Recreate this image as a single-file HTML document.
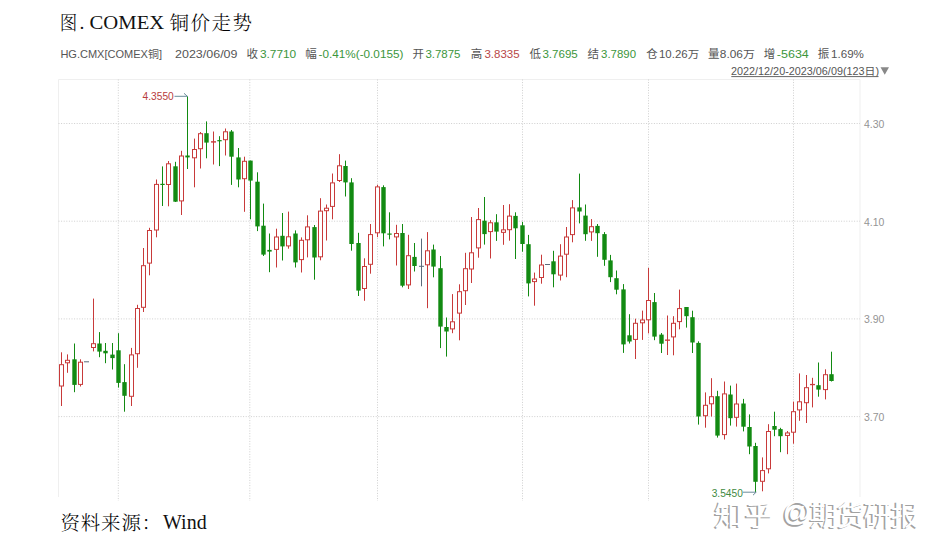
<!DOCTYPE html>
<html><head><meta charset="utf-8"><title>COMEX</title>
<style>
html,body{margin:0;padding:0;background:#fff;}
body{width:940px;height:553px;overflow:hidden;}
svg{display:block;}
.ttl{font-family:"Liberation Serif","Noto Serif CJK SC",serif;font-size:19.5px;font-weight:300;fill:#000;}
.ttlr{font-family:"Liberation Serif",serif;font-size:19.5px;fill:#111;}
.src{font-family:"Liberation Serif","Noto Serif CJK SC",serif;font-size:19.5px;font-weight:300;fill:#000;}
.srcr{font-family:"Liberation Serif",serif;font-size:20px;fill:#111;}
.inf{font-family:"Liberation Sans","Noto Sans CJK SC",sans-serif;font-size:10.4px;}
.infc{font-family:"Liberation Sans","Noto Sans CJK SC",sans-serif;font-size:11.5px;}
.lb{fill:#555;}
.gn{fill:#3c963c;}
.rd{fill:#b84848;}
.yl{font-family:"Liberation Sans","Noto Sans CJK SC",sans-serif;font-size:10.5px;fill:#949494;}
.rng{font-family:"Liberation Sans","Noto Sans CJK SC",sans-serif;font-size:10.4px;fill:#555;}
.mx{font-family:"Liberation Sans",sans-serif;font-size:11px;}
.wm{font-family:"Liberation Sans","Noto Sans CJK SC",sans-serif;font-size:28px;}
</style></head><body>
<svg width="940" height="553" viewBox="0 0 940 553">
<rect width="940" height="553" fill="#fff"/>
<text x="59.8" y="29.8" class="ttl" textLength="17.5" lengthAdjust="spacingAndGlyphs">图</text>
<text x="79.5" y="29.4" class="ttlr">.</text>
<text x="89.6" y="29.4" class="ttlr" textLength="74.6" lengthAdjust="spacingAndGlyphs">COMEX</text>
<text x="169.6" y="29.6" class="ttl" letter-spacing="1.5" font-size="19px">铜价走势</text>
<text x="60.4" y="58.2" class="inf lb" textLength="101.6" lengthAdjust="spacingAndGlyphs">HG.CMX[COMEX铜]</text>
<text x="175" y="58.2" class="inf lb" textLength="62.5" lengthAdjust="spacingAndGlyphs">2023/06/09</text>
<text x="246.5" y="58.2" class="infc lb">收</text>
<text x="259.9" y="58.2" class="inf gn" textLength="36.3" lengthAdjust="spacingAndGlyphs">3.7710</text>
<text x="305.3" y="58.2" class="infc lb">幅</text>
<text x="318.6" y="58.2" class="inf gn" textLength="84.8" lengthAdjust="spacingAndGlyphs">-0.41%(-0.0155)</text>
<text x="412.5" y="58.2" class="infc lb">开</text>
<text x="425.4" y="58.2" class="inf gn" textLength="35.1" lengthAdjust="spacingAndGlyphs">3.7875</text>
<text x="470.8" y="58.2" class="infc lb">高</text>
<text x="484.4" y="58.2" class="inf rd" textLength="35.2" lengthAdjust="spacingAndGlyphs">3.8335</text>
<text x="529.5" y="58.2" class="infc lb">低</text>
<text x="542.4" y="58.2" class="inf gn" textLength="35.4" lengthAdjust="spacingAndGlyphs">3.7695</text>
<text x="587.4" y="58.2" class="infc lb">结</text>
<text x="601.1" y="58.2" class="inf gn" textLength="34.9" lengthAdjust="spacingAndGlyphs">3.7890</text>
<text x="646.2" y="58.2" class="infc lb">仓</text>
<text x="659" y="58.2" class="inf lb" textLength="40.1" lengthAdjust="spacingAndGlyphs">10.26万</text>
<text x="708" y="58.2" class="infc lb">量</text>
<text x="719.8" y="58.2" class="inf lb" textLength="35" lengthAdjust="spacingAndGlyphs">8.06万</text>
<text x="763.8" y="58.2" class="infc lb">增</text>
<text x="776.8" y="58.2" class="inf gn" textLength="32" lengthAdjust="spacingAndGlyphs">-5634</text>
<text x="817.8" y="58.2" class="infc lb">振</text>
<text x="831" y="58.2" class="inf lb" textLength="32.9" lengthAdjust="spacingAndGlyphs">1.69%</text>
<text x="731" y="74.8" class="rng" textLength="148" lengthAdjust="spacingAndGlyphs">2022/12/20-2023/06/09(123日)</text>
<line x1="731.3" y1="76.6" x2="878.5" y2="76.6" stroke="#666" stroke-width="1"/>
<path d="M880.5 67.2 L889 67.2 L884.75 74.8 Z" fill="#888"/>
<path d="M58.5 497 V79.5 H860 V497" fill="none" stroke="#efefef" stroke-width="1"/>
<line x1="58.5" y1="123.5" x2="860" y2="123.5" stroke="#cfcfcf" stroke-width="1" stroke-dasharray="1,1.6"/>
<line x1="58.5" y1="221.2" x2="860" y2="221.2" stroke="#cfcfcf" stroke-width="1" stroke-dasharray="1,1.6"/>
<line x1="58.5" y1="318.9" x2="860" y2="318.9" stroke="#cfcfcf" stroke-width="1" stroke-dasharray="1,1.6"/>
<line x1="58.5" y1="416.6" x2="860" y2="416.6" stroke="#cfcfcf" stroke-width="1" stroke-dasharray="1,1.6"/>
<line x1="118.3" y1="79.5" x2="118.3" y2="501" stroke="#cfcfcf" stroke-width="1" stroke-dasharray="1,1.6"/>
<line x1="249.8" y1="79.5" x2="249.8" y2="501" stroke="#cfcfcf" stroke-width="1" stroke-dasharray="1,1.6"/>
<line x1="377.5" y1="79.5" x2="377.5" y2="501" stroke="#cfcfcf" stroke-width="1" stroke-dasharray="1,1.6"/>
<line x1="522.5" y1="79.5" x2="522.5" y2="501" stroke="#cfcfcf" stroke-width="1" stroke-dasharray="1,1.6"/>
<line x1="648.5" y1="79.5" x2="648.5" y2="501" stroke="#cfcfcf" stroke-width="1" stroke-dasharray="1,1.6"/>
<line x1="793.5" y1="79.5" x2="793.5" y2="501" stroke="#cfcfcf" stroke-width="1" stroke-dasharray="1,1.6"/>
<text x="863.9" y="127.8" class="yl" textLength="20.4" lengthAdjust="spacingAndGlyphs">4.30</text>
<text x="863.9" y="225.5" class="yl" textLength="20.4" lengthAdjust="spacingAndGlyphs">4.10</text>
<text x="863.9" y="323.2" class="yl" textLength="20.4" lengthAdjust="spacingAndGlyphs">3.90</text>
<text x="863.9" y="420.9" class="yl" textLength="20.4" lengthAdjust="spacingAndGlyphs">3.70</text>
<line x1="61.5" y1="352.3" x2="61.5" y2="406" stroke="#c83a3a" stroke-width="1"/>
<rect x="59.5" y="364.7" width="4" height="21.3" fill="#fff" stroke="#c83a3a" stroke-width="1"/>
<line x1="67.5" y1="354.4" x2="67.5" y2="372.8" stroke="#c83a3a" stroke-width="1"/>
<rect x="65.5" y="360.3" width="4" height="2.5" fill="#fff" stroke="#c83a3a" stroke-width="1"/>
<line x1="74.5" y1="343.5" x2="74.5" y2="392.2" stroke="#128a12" stroke-width="1"/>
<rect x="72.3" y="359.3" width="4.4" height="25.6" fill="#128a12"/>
<line x1="80.5" y1="359.3" x2="80.5" y2="386.5" stroke="#c83a3a" stroke-width="1"/>
<rect x="78.5" y="362.2" width="4" height="22.2" fill="#fff" stroke="#c83a3a" stroke-width="1"/>
<rect x="84" y="361.3" width="5" height="1" fill="#5a6a7a"/>
<line x1="93.5" y1="298.6" x2="93.5" y2="351.4" stroke="#c83a3a" stroke-width="1"/>
<rect x="91.5" y="343.7" width="4" height="3.8" fill="#fff" stroke="#c83a3a" stroke-width="1"/>
<line x1="99.5" y1="332.1" x2="99.5" y2="357.2" stroke="#128a12" stroke-width="1"/>
<rect x="97.3" y="343.5" width="4.4" height="8.1" fill="#128a12"/>
<line x1="105.5" y1="343" x2="105.5" y2="363.2" stroke="#128a12" stroke-width="1"/>
<rect x="103.3" y="350.8" width="4.4" height="2.5" fill="#128a12"/>
<line x1="112.5" y1="343" x2="112.5" y2="369.5" stroke="#128a12" stroke-width="1"/>
<rect x="110.3" y="354.6" width="4.4" height="3.5" fill="#128a12"/>
<line x1="118.5" y1="333.2" x2="118.5" y2="387.6" stroke="#128a12" stroke-width="1"/>
<rect x="116.3" y="350.3" width="4.4" height="32.6" fill="#128a12"/>
<line x1="124.5" y1="364.2" x2="124.5" y2="411.7" stroke="#128a12" stroke-width="1"/>
<rect x="122.3" y="382.1" width="4.4" height="13.7" fill="#128a12"/>
<line x1="131.5" y1="347.9" x2="131.5" y2="406" stroke="#c83a3a" stroke-width="1"/>
<rect x="129.5" y="354.9" width="4" height="41.4" fill="#fff" stroke="#c83a3a" stroke-width="1"/>
<line x1="137.5" y1="304.8" x2="137.5" y2="367.8" stroke="#c83a3a" stroke-width="1"/>
<rect x="135.5" y="308.5" width="4" height="45.2" fill="#fff" stroke="#c83a3a" stroke-width="1"/>
<line x1="143.5" y1="248" x2="143.5" y2="312" stroke="#c83a3a" stroke-width="1"/>
<rect x="141.5" y="265.7" width="4" height="41.6" fill="#fff" stroke="#c83a3a" stroke-width="1"/>
<line x1="149.5" y1="227.8" x2="149.5" y2="275.3" stroke="#c83a3a" stroke-width="1"/>
<rect x="147.5" y="230.5" width="4" height="32.6" fill="#fff" stroke="#c83a3a" stroke-width="1"/>
<line x1="156.5" y1="179.5" x2="156.5" y2="237.3" stroke="#c83a3a" stroke-width="1"/>
<rect x="154.5" y="184.4" width="4" height="45.6" fill="#fff" stroke="#c83a3a" stroke-width="1"/>
<line x1="162.5" y1="166.4" x2="162.5" y2="206" stroke="#128a12" stroke-width="1"/>
<rect x="160.3" y="183.8" width="4.4" height="1.2" fill="#128a12"/>
<line x1="168.5" y1="161" x2="168.5" y2="206.3" stroke="#c83a3a" stroke-width="1"/>
<rect x="166.5" y="163.8" width="4" height="20.7" fill="#fff" stroke="#c83a3a" stroke-width="1"/>
<line x1="175.5" y1="161.8" x2="175.5" y2="202" stroke="#128a12" stroke-width="1"/>
<rect x="173.3" y="166.3" width="4.4" height="35.4" fill="#128a12"/>
<line x1="181.5" y1="150.8" x2="181.5" y2="215" stroke="#c83a3a" stroke-width="1"/>
<rect x="179.5" y="156" width="4" height="44.9" fill="#fff" stroke="#c83a3a" stroke-width="1"/>
<line x1="187.5" y1="96.3" x2="187.5" y2="169" stroke="#128a12" stroke-width="1"/>
<rect x="185.3" y="155.5" width="4.4" height="1.9" fill="#128a12"/>
<line x1="194.5" y1="138.6" x2="194.5" y2="187.3" stroke="#c83a3a" stroke-width="1"/>
<rect x="192.5" y="149.5" width="4" height="8.3" fill="#fff" stroke="#c83a3a" stroke-width="1"/>
<line x1="200.5" y1="132" x2="200.5" y2="168.5" stroke="#c83a3a" stroke-width="1"/>
<rect x="198.5" y="133.7" width="4" height="15" fill="#fff" stroke="#c83a3a" stroke-width="1"/>
<line x1="206.5" y1="121.4" x2="206.5" y2="158.3" stroke="#128a12" stroke-width="1"/>
<rect x="204.3" y="133.2" width="4.4" height="9.4" fill="#128a12"/>
<line x1="213.5" y1="131.5" x2="213.5" y2="164.5" stroke="#c83a3a" stroke-width="1"/>
<rect x="211" y="141.2" width="5" height="1.4" fill="#c83a3a"/>
<line x1="219.5" y1="136.2" x2="219.5" y2="166.1" stroke="#128a12" stroke-width="1"/>
<rect x="217.3" y="140.1" width="4.4" height="1.2" fill="#128a12"/>
<line x1="225.5" y1="128.5" x2="225.5" y2="155.5" stroke="#c83a3a" stroke-width="1"/>
<rect x="223.5" y="131.8" width="4" height="7.9" fill="#fff" stroke="#c83a3a" stroke-width="1"/>
<line x1="231.5" y1="130" x2="231.5" y2="184.9" stroke="#128a12" stroke-width="1"/>
<rect x="229.3" y="131.5" width="4.4" height="25.2" fill="#128a12"/>
<line x1="238.5" y1="148" x2="238.5" y2="187.3" stroke="#128a12" stroke-width="1"/>
<rect x="236.3" y="157.4" width="4.4" height="22.1" fill="#128a12"/>
<line x1="244.5" y1="156.7" x2="244.5" y2="211.8" stroke="#c83a3a" stroke-width="1"/>
<rect x="242.5" y="161.3" width="4" height="17.4" fill="#fff" stroke="#c83a3a" stroke-width="1"/>
<line x1="250.5" y1="160.6" x2="250.5" y2="219.3" stroke="#128a12" stroke-width="1"/>
<rect x="248.3" y="160.6" width="4.4" height="20" fill="#128a12"/>
<line x1="257.5" y1="172.3" x2="257.5" y2="231.1" stroke="#128a12" stroke-width="1"/>
<rect x="255.3" y="181.7" width="4.4" height="44.7" fill="#128a12"/>
<line x1="263.5" y1="203.6" x2="263.5" y2="256" stroke="#128a12" stroke-width="1"/>
<rect x="261.3" y="225.7" width="4.4" height="28.9" fill="#128a12"/>
<line x1="269.5" y1="233.5" x2="269.5" y2="272.2" stroke="#128a12" stroke-width="1"/>
<rect x="267.3" y="249.9" width="4.4" height="1.7" fill="#128a12"/>
<line x1="276.5" y1="228.7" x2="276.5" y2="267.5" stroke="#c83a3a" stroke-width="1"/>
<rect x="274.5" y="237" width="4" height="12.4" fill="#fff" stroke="#c83a3a" stroke-width="1"/>
<line x1="282.5" y1="213" x2="282.5" y2="260.5" stroke="#128a12" stroke-width="1"/>
<rect x="280.3" y="235.8" width="4.4" height="10.6" fill="#128a12"/>
<line x1="288.5" y1="211.6" x2="288.5" y2="248.7" stroke="#c83a3a" stroke-width="1"/>
<rect x="286.5" y="236.8" width="4" height="9.1" fill="#fff" stroke="#c83a3a" stroke-width="1"/>
<line x1="295.5" y1="230.4" x2="295.5" y2="267.5" stroke="#128a12" stroke-width="1"/>
<rect x="293.3" y="233.5" width="4.4" height="28.9" fill="#128a12"/>
<line x1="301.5" y1="237.4" x2="301.5" y2="272.5" stroke="#c83a3a" stroke-width="1"/>
<rect x="299.5" y="240.3" width="4" height="19.3" fill="#fff" stroke="#c83a3a" stroke-width="1"/>
<line x1="307.5" y1="215.3" x2="307.5" y2="257.4" stroke="#c83a3a" stroke-width="1"/>
<rect x="305.5" y="226.9" width="4" height="12.9" fill="#fff" stroke="#c83a3a" stroke-width="1"/>
<line x1="314.5" y1="225" x2="314.5" y2="279.7" stroke="#128a12" stroke-width="1"/>
<rect x="312.3" y="227.1" width="4.4" height="30.4" fill="#128a12"/>
<line x1="320.5" y1="198.2" x2="320.5" y2="260.3" stroke="#c83a3a" stroke-width="1"/>
<rect x="318.5" y="211.1" width="4" height="45.7" fill="#fff" stroke="#c83a3a" stroke-width="1"/>
<line x1="326.5" y1="204.5" x2="326.5" y2="240.5" stroke="#c83a3a" stroke-width="1"/>
<rect x="324.5" y="208.2" width="4" height="2.5" fill="#fff" stroke="#c83a3a" stroke-width="1"/>
<line x1="332.5" y1="173.5" x2="332.5" y2="219.3" stroke="#c83a3a" stroke-width="1"/>
<rect x="330.5" y="182.9" width="4" height="23.5" fill="#fff" stroke="#c83a3a" stroke-width="1"/>
<line x1="339.5" y1="154.2" x2="339.5" y2="182" stroke="#c83a3a" stroke-width="1"/>
<rect x="337.5" y="165.8" width="4" height="14.7" fill="#fff" stroke="#c83a3a" stroke-width="1"/>
<line x1="345.5" y1="160.6" x2="345.5" y2="196.5" stroke="#128a12" stroke-width="1"/>
<rect x="343.3" y="166" width="4.4" height="16.4" fill="#128a12"/>
<line x1="351.5" y1="178.2" x2="351.5" y2="250.7" stroke="#128a12" stroke-width="1"/>
<rect x="349.3" y="182.4" width="4.4" height="61.6" fill="#128a12"/>
<line x1="358.5" y1="232.8" x2="358.5" y2="296" stroke="#128a12" stroke-width="1"/>
<rect x="356.3" y="243" width="4.4" height="47.6" fill="#128a12"/>
<line x1="364.5" y1="258.3" x2="364.5" y2="300.8" stroke="#c83a3a" stroke-width="1"/>
<rect x="362.5" y="266.5" width="4" height="22" fill="#fff" stroke="#c83a3a" stroke-width="1"/>
<line x1="370.5" y1="224" x2="370.5" y2="273.7" stroke="#c83a3a" stroke-width="1"/>
<rect x="368.5" y="234.6" width="4" height="29.7" fill="#fff" stroke="#c83a3a" stroke-width="1"/>
<line x1="377.5" y1="184.8" x2="377.5" y2="237.2" stroke="#c83a3a" stroke-width="1"/>
<rect x="375.5" y="186.9" width="4" height="45.9" fill="#fff" stroke="#c83a3a" stroke-width="1"/>
<line x1="383.5" y1="185.3" x2="383.5" y2="246.4" stroke="#128a12" stroke-width="1"/>
<rect x="381.3" y="187.1" width="4.4" height="46.2" fill="#128a12"/>
<line x1="389.5" y1="212.3" x2="389.5" y2="239.4" stroke="#128a12" stroke-width="1"/>
<rect x="387.3" y="233.5" width="4.4" height="1.2" fill="#128a12"/>
<line x1="396.5" y1="224.8" x2="396.5" y2="265.5" stroke="#c83a3a" stroke-width="1"/>
<rect x="394.5" y="233.5" width="4" height="3.4" fill="#fff" stroke="#c83a3a" stroke-width="1"/>
<line x1="402.5" y1="224" x2="402.5" y2="287.3" stroke="#128a12" stroke-width="1"/>
<rect x="400.3" y="233" width="4.4" height="52.7" fill="#128a12"/>
<line x1="408.5" y1="234.8" x2="408.5" y2="289" stroke="#c83a3a" stroke-width="1"/>
<rect x="406.5" y="255.7" width="4" height="29.2" fill="#fff" stroke="#c83a3a" stroke-width="1"/>
<line x1="414.5" y1="243" x2="414.5" y2="271.5" stroke="#128a12" stroke-width="1"/>
<rect x="412.3" y="256.9" width="4.4" height="9.1" fill="#128a12"/>
<line x1="421.5" y1="238.6" x2="421.5" y2="286.3" stroke="#5a6a7a" stroke-width="1"/>
<rect x="419" y="265.8" width="5" height="1" fill="#5a6a7a"/>
<line x1="427.5" y1="232.1" x2="427.5" y2="308.2" stroke="#c83a3a" stroke-width="1"/>
<rect x="425.5" y="250.8" width="4" height="14" fill="#fff" stroke="#c83a3a" stroke-width="1"/>
<line x1="433.5" y1="244.6" x2="433.5" y2="277.3" stroke="#128a12" stroke-width="1"/>
<rect x="431.3" y="249.5" width="4.4" height="17.1" fill="#128a12"/>
<line x1="440.5" y1="256" x2="440.5" y2="348.1" stroke="#128a12" stroke-width="1"/>
<rect x="438.3" y="268.2" width="4.4" height="58.4" fill="#128a12"/>
<line x1="446.5" y1="317.5" x2="446.5" y2="356.6" stroke="#128a12" stroke-width="1"/>
<rect x="444.3" y="327" width="4.4" height="4.5" fill="#128a12"/>
<line x1="452.5" y1="294.1" x2="452.5" y2="333.2" stroke="#c83a3a" stroke-width="1"/>
<rect x="450.5" y="321.8" width="4" height="7.1" fill="#fff" stroke="#c83a3a" stroke-width="1"/>
<line x1="459.5" y1="284.3" x2="459.5" y2="340.3" stroke="#c83a3a" stroke-width="1"/>
<rect x="457.5" y="291.7" width="4" height="21.4" fill="#fff" stroke="#c83a3a" stroke-width="1"/>
<line x1="465.5" y1="252.8" x2="465.5" y2="305" stroke="#c83a3a" stroke-width="1"/>
<rect x="463.5" y="268.7" width="4" height="22" fill="#fff" stroke="#c83a3a" stroke-width="1"/>
<line x1="471.5" y1="217" x2="471.5" y2="283" stroke="#c83a3a" stroke-width="1"/>
<rect x="469.5" y="252.8" width="4" height="16.2" fill="#fff" stroke="#c83a3a" stroke-width="1"/>
<line x1="478.5" y1="208" x2="478.5" y2="257.7" stroke="#c83a3a" stroke-width="1"/>
<rect x="476.5" y="219.6" width="4" height="28.3" fill="#fff" stroke="#c83a3a" stroke-width="1"/>
<line x1="484.5" y1="197" x2="484.5" y2="244.6" stroke="#128a12" stroke-width="1"/>
<rect x="482.3" y="220.7" width="4.4" height="13.4" fill="#128a12"/>
<line x1="490.5" y1="220.2" x2="490.5" y2="258.5" stroke="#c83a3a" stroke-width="1"/>
<rect x="488.5" y="222.8" width="4" height="8.8" fill="#fff" stroke="#c83a3a" stroke-width="1"/>
<line x1="496.5" y1="214.2" x2="496.5" y2="240.9" stroke="#128a12" stroke-width="1"/>
<rect x="494.3" y="222.3" width="4.4" height="9.3" fill="#128a12"/>
<line x1="503.5" y1="205" x2="503.5" y2="244.8" stroke="#c83a3a" stroke-width="1"/>
<rect x="501.5" y="229.85" width="4" height="2.5" fill="#fff" stroke="#c83a3a" stroke-width="1"/>
<line x1="509.5" y1="204.2" x2="509.5" y2="240.7" stroke="#c83a3a" stroke-width="1"/>
<rect x="507.5" y="216.1" width="4" height="13.6" fill="#fff" stroke="#c83a3a" stroke-width="1"/>
<line x1="515.5" y1="212.3" x2="515.5" y2="259" stroke="#128a12" stroke-width="1"/>
<rect x="513.3" y="215.9" width="4.4" height="12.4" fill="#128a12"/>
<line x1="522.5" y1="221.8" x2="522.5" y2="251.7" stroke="#128a12" stroke-width="1"/>
<rect x="520.3" y="225.3" width="4.4" height="18.7" fill="#128a12"/>
<line x1="528.5" y1="234.9" x2="528.5" y2="296.4" stroke="#128a12" stroke-width="1"/>
<rect x="526.3" y="244.2" width="4.4" height="39.2" fill="#128a12"/>
<line x1="534.5" y1="272.6" x2="534.5" y2="305.7" stroke="#c83a3a" stroke-width="1"/>
<rect x="532.5" y="279" width="4" height="2.6" fill="#fff" stroke="#c83a3a" stroke-width="1"/>
<line x1="541.5" y1="254.7" x2="541.5" y2="283.7" stroke="#c83a3a" stroke-width="1"/>
<rect x="539.5" y="265" width="4" height="12.5" fill="#fff" stroke="#c83a3a" stroke-width="1"/>
<rect x="545" y="264" width="5" height="1" fill="#5a6a7a"/>
<line x1="553.5" y1="250.8" x2="553.5" y2="287.3" stroke="#128a12" stroke-width="1"/>
<rect x="551.3" y="261.3" width="4.4" height="13" fill="#128a12"/>
<line x1="560.5" y1="244.2" x2="560.5" y2="280.5" stroke="#c83a3a" stroke-width="1"/>
<rect x="558.5" y="256.1" width="4" height="19" fill="#fff" stroke="#c83a3a" stroke-width="1"/>
<line x1="566.5" y1="227" x2="566.5" y2="277.2" stroke="#c83a3a" stroke-width="1"/>
<rect x="564.5" y="237" width="4" height="17.2" fill="#fff" stroke="#c83a3a" stroke-width="1"/>
<line x1="572.5" y1="200.1" x2="572.5" y2="242.3" stroke="#c83a3a" stroke-width="1"/>
<rect x="570.5" y="207.9" width="4" height="26.7" fill="#fff" stroke="#c83a3a" stroke-width="1"/>
<line x1="579.5" y1="173.6" x2="579.5" y2="223.4" stroke="#128a12" stroke-width="1"/>
<rect x="577.3" y="207.4" width="4.4" height="4.1" fill="#128a12"/>
<line x1="585.5" y1="204.5" x2="585.5" y2="240.8" stroke="#128a12" stroke-width="1"/>
<rect x="583.3" y="215.6" width="4.4" height="18.6" fill="#128a12"/>
<line x1="591.5" y1="219.1" x2="591.5" y2="240.9" stroke="#c83a3a" stroke-width="1"/>
<rect x="589.5" y="226.7" width="4" height="5.2" fill="#fff" stroke="#c83a3a" stroke-width="1"/>
<line x1="597.5" y1="224" x2="597.5" y2="256.8" stroke="#128a12" stroke-width="1"/>
<rect x="595.3" y="225.9" width="4.4" height="7.3" fill="#128a12"/>
<line x1="604.5" y1="232.1" x2="604.5" y2="265.8" stroke="#128a12" stroke-width="1"/>
<rect x="602.3" y="234.1" width="4.4" height="25.7" fill="#128a12"/>
<line x1="610.5" y1="254.9" x2="610.5" y2="282.1" stroke="#128a12" stroke-width="1"/>
<rect x="608.3" y="260.4" width="4.4" height="16.8" fill="#128a12"/>
<line x1="616.5" y1="270.5" x2="616.5" y2="294.3" stroke="#128a12" stroke-width="1"/>
<rect x="614.3" y="278.2" width="4.4" height="11.5" fill="#128a12"/>
<line x1="623.5" y1="284.1" x2="623.5" y2="352.9" stroke="#128a12" stroke-width="1"/>
<rect x="621.3" y="289.4" width="4.4" height="55" fill="#128a12"/>
<line x1="629.5" y1="314.2" x2="629.5" y2="343.5" stroke="#128a12" stroke-width="1"/>
<rect x="627.3" y="335.3" width="4.4" height="6.2" fill="#128a12"/>
<line x1="635.5" y1="318.7" x2="635.5" y2="359" stroke="#c83a3a" stroke-width="1"/>
<rect x="633.5" y="323.3" width="4" height="16.1" fill="#fff" stroke="#c83a3a" stroke-width="1"/>
<line x1="642.5" y1="310.6" x2="642.5" y2="339.9" stroke="#c83a3a" stroke-width="1"/>
<rect x="640.5" y="320" width="4" height="2.8" fill="#fff" stroke="#c83a3a" stroke-width="1"/>
<line x1="648.5" y1="267.9" x2="648.5" y2="333.4" stroke="#c83a3a" stroke-width="1"/>
<rect x="646.5" y="300.5" width="4" height="19.3" fill="#fff" stroke="#c83a3a" stroke-width="1"/>
<line x1="654.5" y1="293" x2="654.5" y2="340.2" stroke="#128a12" stroke-width="1"/>
<rect x="652.3" y="302.1" width="4.4" height="34.5" fill="#128a12"/>
<line x1="661.5" y1="333" x2="661.5" y2="353" stroke="#128a12" stroke-width="1"/>
<rect x="659.3" y="334.6" width="4.4" height="9.1" fill="#128a12"/>
<line x1="667.5" y1="315.5" x2="667.5" y2="355" stroke="#c83a3a" stroke-width="1"/>
<rect x="665" y="339.5" width="5" height="1.3" fill="#c83a3a"/>
<line x1="673.5" y1="316.2" x2="673.5" y2="355.3" stroke="#c83a3a" stroke-width="1"/>
<rect x="671.5" y="323.3" width="4" height="13.6" fill="#fff" stroke="#c83a3a" stroke-width="1"/>
<line x1="679.5" y1="289.6" x2="679.5" y2="329.3" stroke="#c83a3a" stroke-width="1"/>
<rect x="677.5" y="308.6" width="4" height="13" fill="#fff" stroke="#c83a3a" stroke-width="1"/>
<line x1="686.5" y1="307" x2="686.5" y2="327.6" stroke="#128a12" stroke-width="1"/>
<rect x="684.3" y="307" width="4.4" height="9.2" fill="#128a12"/>
<line x1="692.5" y1="310.7" x2="692.5" y2="353" stroke="#128a12" stroke-width="1"/>
<rect x="690.3" y="317.2" width="4.4" height="25.3" fill="#128a12"/>
<line x1="698.5" y1="341.3" x2="698.5" y2="424.6" stroke="#128a12" stroke-width="1"/>
<rect x="696.3" y="342.9" width="4.4" height="73.6" fill="#128a12"/>
<line x1="705.5" y1="392.4" x2="705.5" y2="427.7" stroke="#c83a3a" stroke-width="1"/>
<rect x="703.5" y="405.3" width="4" height="10.4" fill="#fff" stroke="#c83a3a" stroke-width="1"/>
<line x1="711.5" y1="378.2" x2="711.5" y2="416.5" stroke="#c83a3a" stroke-width="1"/>
<rect x="709.5" y="396.7" width="4" height="7.1" fill="#fff" stroke="#c83a3a" stroke-width="1"/>
<line x1="717.5" y1="390.8" x2="717.5" y2="437.6" stroke="#128a12" stroke-width="1"/>
<rect x="715.3" y="396.2" width="4.4" height="39.4" fill="#128a12"/>
<line x1="724.5" y1="381.5" x2="724.5" y2="439.5" stroke="#c83a3a" stroke-width="1"/>
<rect x="722.5" y="393.9" width="4" height="40.7" fill="#fff" stroke="#c83a3a" stroke-width="1"/>
<line x1="730.5" y1="385.6" x2="730.5" y2="425.6" stroke="#128a12" stroke-width="1"/>
<rect x="728.3" y="394.5" width="4.4" height="23.7" fill="#128a12"/>
<line x1="736.5" y1="383.6" x2="736.5" y2="426.6" stroke="#c83a3a" stroke-width="1"/>
<rect x="734.5" y="404" width="4" height="13.3" fill="#fff" stroke="#c83a3a" stroke-width="1"/>
<line x1="743.5" y1="398.9" x2="743.5" y2="431.4" stroke="#128a12" stroke-width="1"/>
<rect x="741.3" y="403.5" width="4.4" height="23.2" fill="#128a12"/>
<line x1="749.5" y1="414.4" x2="749.5" y2="454.2" stroke="#128a12" stroke-width="1"/>
<rect x="747.3" y="427" width="4.4" height="19.5" fill="#128a12"/>
<line x1="755.5" y1="442.8" x2="755.5" y2="492.2" stroke="#128a12" stroke-width="1"/>
<rect x="753.3" y="446" width="4.4" height="35.8" fill="#128a12"/>
<line x1="762.5" y1="457.4" x2="762.5" y2="491.3" stroke="#c83a3a" stroke-width="1"/>
<rect x="760.5" y="470.6" width="4" height="10.7" fill="#fff" stroke="#c83a3a" stroke-width="1"/>
<line x1="768.5" y1="424.2" x2="768.5" y2="473.4" stroke="#c83a3a" stroke-width="1"/>
<rect x="766.5" y="431.5" width="4" height="37.3" fill="#fff" stroke="#c83a3a" stroke-width="1"/>
<line x1="774.5" y1="411.7" x2="774.5" y2="436.2" stroke="#128a12" stroke-width="1"/>
<rect x="772.3" y="426" width="4.4" height="3.7" fill="#128a12"/>
<line x1="780.5" y1="427.8" x2="780.5" y2="452.2" stroke="#128a12" stroke-width="1"/>
<rect x="778.3" y="429.1" width="4.4" height="7.1" fill="#128a12"/>
<line x1="787.5" y1="431" x2="787.5" y2="454.2" stroke="#c83a3a" stroke-width="1"/>
<rect x="785.5" y="432.95" width="4" height="2.5" fill="#fff" stroke="#c83a3a" stroke-width="1"/>
<line x1="793.5" y1="401.6" x2="793.5" y2="443.7" stroke="#c83a3a" stroke-width="1"/>
<rect x="791.5" y="411.7" width="4" height="20.5" fill="#fff" stroke="#c83a3a" stroke-width="1"/>
<line x1="799.5" y1="373.4" x2="799.5" y2="420.8" stroke="#c83a3a" stroke-width="1"/>
<rect x="797.5" y="401.8" width="4" height="8.1" fill="#fff" stroke="#c83a3a" stroke-width="1"/>
<line x1="806.5" y1="375" x2="806.5" y2="423" stroke="#c83a3a" stroke-width="1"/>
<rect x="804.5" y="387.7" width="4" height="15" fill="#fff" stroke="#c83a3a" stroke-width="1"/>
<line x1="812.5" y1="377.8" x2="812.5" y2="407.4" stroke="#c83a3a" stroke-width="1"/>
<rect x="810" y="383.9" width="5" height="1.3" fill="#c83a3a"/>
<line x1="818.5" y1="362.5" x2="818.5" y2="396.7" stroke="#128a12" stroke-width="1"/>
<rect x="816.3" y="385.2" width="4.4" height="4.4" fill="#128a12"/>
<line x1="825.5" y1="369.3" x2="825.5" y2="399.4" stroke="#c83a3a" stroke-width="1"/>
<rect x="823.5" y="374.7" width="4" height="14.9" fill="#fff" stroke="#c83a3a" stroke-width="1"/>
<line x1="831.5" y1="351.7" x2="831.5" y2="381.5" stroke="#128a12" stroke-width="1"/>
<rect x="829.3" y="374.2" width="4.4" height="6.8" fill="#128a12"/>
<text x="142.6" y="100" class="mx" fill="#b83c3c" textLength="31.2" lengthAdjust="spacingAndGlyphs">4.3550</text>
<path d="M174.5 96.3 H187.6 M184 93.3 L187.3 96.3" stroke="#6a8c9a" stroke-width="1" fill="none"/>
<text x="711.7" y="496.8" class="mx" fill="#3f8a3f" textLength="31.2" lengthAdjust="spacingAndGlyphs">3.5450</text>
<path d="M743 492.2 H756.3 M753 495.2 L756.1 492.2" stroke="#6a8c9a" stroke-width="1" fill="none"/>
<text x="60.5" y="529.5" class="src" letter-spacing="0.8">资料来源：</text>
<text x="163" y="528.5" class="srcr">Wind</text>
<g class="wm" fill="#a2a2a2" transform="translate(-1.7,1.7)">
<text x="714.5" y="525.6" letter-spacing="2.5">知乎</text>
<text x="782.8" y="521">@</text>
<text x="809.6" y="525.6" letter-spacing="-0.9">期货研报</text>
</g>
<g class="wm" fill="#ffffff">
<text x="714.5" y="525.6" letter-spacing="2.5">知乎</text>
<text x="782.8" y="521">@</text>
<text x="809.6" y="525.6" letter-spacing="-0.9">期货研报</text>
</g>
</svg>
</body></html>
